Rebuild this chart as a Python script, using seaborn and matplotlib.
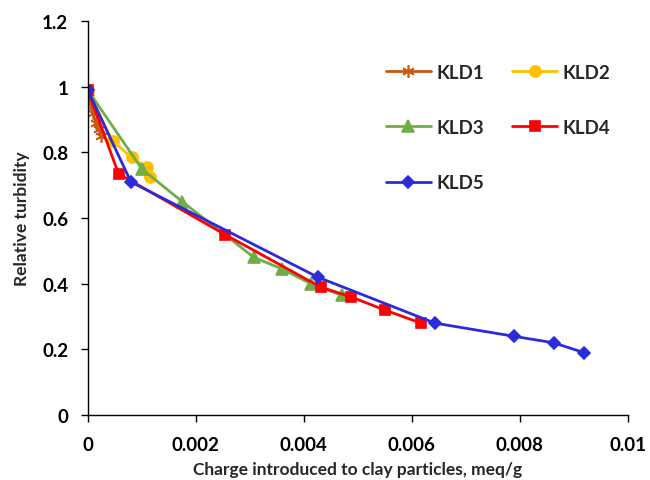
import pandas as pd
import matplotlib
matplotlib.use("Agg")
import matplotlib.pyplot as plt
import seaborn as sns

# Data
kld1_x = [0, 0.00005, 0.0001, 0.00015, 0.0002, 0.00025]
kld1_y = [0.99, 0.95, 0.92, 0.89, 0.87, 0.85]

kld2_x = [0, 0.00046, 0.00081, 0.00109, 0.00115]
kld2_y = [0.99, 0.835, 0.785, 0.755, 0.725]

kld3_x = [0, 0.00100, 0.00175, 0.00308, 0.00360, 0.00413, 0.00470]
kld3_y = [0.99, 0.75, 0.65, 0.48, 0.445, 0.40, 0.365]

kld4_x = [0, 0.00057, 0.00254, 0.00431, 0.00487, 0.00550, 0.00617]
kld4_y = [0.99, 0.735, 0.55, 0.39, 0.36, 0.32, 0.28]

kld5_x = [0, 0.00080, 0.00426, 0.00643, 0.00789, 0.00863, 0.00919]
kld5_y = [0.99, 0.71, 0.42, 0.28, 0.24, 0.22, 0.19]

series = [
    ("KLD1", kld1_x, kld1_y, "#C55A11", (6, 2, 0), 9),
    ("KLD2", kld2_x, kld2_y, "#FFC000", "o", 8),
    ("KLD3", kld3_x, kld3_y, "#70AD47", "^", 8),
    ("KLD4", kld4_x, kld4_y, "#FF0000", "s", 7),
    ("KLD5", kld5_x, kld5_y, "#2B2BD9", "D", 6),
]

sns.set_style("white")
plt.rcParams['font.family'] = ['Lato', 'DejaVu Sans']
plt.rcParams['font.weight'] = 'bold'

fig = plt.figure(figsize=(6.5, 4.81), dpi=100)
ax = fig.add_axes([0.135, 0.135, 0.831, 0.819])

for name, xs, ys, color, marker, ms in series:
    df = pd.DataFrame({'x': xs, 'y': ys})
    sns.lineplot(data=df, x='x', y='y', ax=ax, sort=False, color=color,
                 marker=marker, markersize=ms, markeredgecolor=color,
                 markeredgewidth=1.2, linewidth=2, label=name)

ax.set_xlim(0, 0.01)
ax.set_ylim(0, 1.2)
ax.set_xticks([0, 0.002, 0.004, 0.006, 0.008, 0.01])
ax.set_xticklabels(['0', '0.002', '0.004', '0.006', '0.008', '0.01'])
ax.set_yticks([0, 0.2, 0.4, 0.6, 0.8, 1.0, 1.2])
ax.set_yticklabels(['0', '0.2', '0.4', '0.6', '0.8', '1', '1.2'])
ax.tick_params(axis='both', labelsize=13.5, length=5, width=1, direction='out',
               bottom=True, left=True, colors='black')
ax.tick_params(axis='x', pad=10)
ax.tick_params(axis='y', pad=9)
for lbl in ax.get_xticklabels() + ax.get_yticklabels():
    lbl.set_fontweight('bold')

ax.set_xlabel('Charge introduced to clay particles, meq/g', fontsize=12.5,
              fontweight='bold', labelpad=6)
ax.set_ylabel('Relative turbidity', fontsize=12.5, fontweight='bold',
              labelpad=9)

sns.despine(ax=ax)
for sp in ['left', 'bottom']:
    ax.spines[sp].set_color('black')
    ax.spines[sp].set_linewidth(1)

handles, labels = ax.get_legend_handles_labels()
order = [0, 2, 4, 1, 3]
ax.legend([handles[i] for i in order], [labels[i] for i in order],
          ncol=2, frameon=False, loc='upper left',
          bbox_to_anchor=(0.52, 0.935), labelspacing=2.05,
          handlelength=2.4, columnspacing=1.5, handletextpad=0.3,
          prop={'weight': 'bold', 'size': 13.5})

fig.savefig('out.png', dpi=100)
